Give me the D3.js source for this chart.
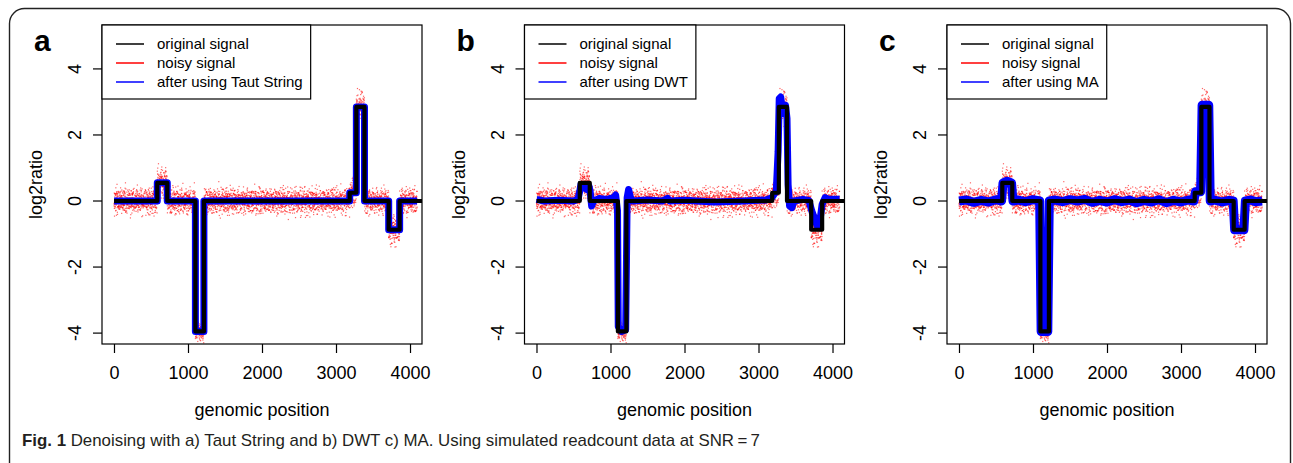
<!DOCTYPE html>
<html>
<head>
<meta charset="utf-8">
<script src="https://cdn.jsdelivr.net/npm/d3@7"></script>
<style>
  body { margin: 0; background: #fff; }
  svg { display: block; }
  text { font-family: "Liberation Sans", Arial, sans-serif; }
</style>
</head>
<body>
<svg width="1293" height="463"></svg>
<script>
// ---------- data ----------
const panelLetters = ['a', 'b', 'c'];
const methodNames = ['Taut String', 'DWT', 'MA'];
const legendLabels = ['original signal', 'noisy signal', 'after using '];
const xTicks = [0, 1000, 2000, 3000, 4000];
const yTicks = [-4, -2, 0, 2, 4];
const nPositions = 4096;

// original (piecewise constant) signal: start position and level of each segment
const segStart = [1, 585, 720, 1100, 1215, 3185, 3275, 3385, 3712, 3860];
const segLevel = [0, 0.55, 0, -3.95, 0, 0.25, 2.85, 0, -0.87, 0];
// spread of the noisy read-count log2ratio around each segment
const segSpread = [0.19, 0.22, 0.19, 0.14, 0.19, 0.22, 0.22, 0.19, 0.24, 0.19];

// residual tables (standard units) used for the scattered noisy points
const resA = [0.31,-1.12,0.84,-0.27,1.53,-0.66,0.08,-1.87,0.45,1.02,-0.39,-0.94,0.71,0.17,-1.41,1.26,-0.05,0.58,-0.73,2.11,
  -0.18,0.96,-1.29,0.39,-0.52,1.67,-0.88,0.23,-2.05,0.63,1.14,-0.34,0.02,-1.58,0.89,-0.11,1.38,-0.69,0.51,-0.97,
  0.27,1.81,-0.45,-1.21,0.74,0.12,-0.61,1.09,-1.73,0.36,0.93,-0.24,-0.83,1.47,-0.07,0.55,-1.36,0.21,2.34,-0.58,
  0.67,-1.04,0.14,-0.31,1.21,-1.95,0.42,0.81,-0.49,-0.16,1.59,-0.77,0.29,-1.18,0.98,-0.36,0.05,1.33,-0.91,-2.27,
  0.61,0.19,-0.64,1.04,-0.21,-1.49,0.77,0.34,-0.09,1.88,-0.72,0.47,-1.07,0.26,-0.42,0.86,-1.63];
const resB = [-0.44,0.92,-1.31,0.18,0.67,-0.03,-1.76,1.19,0.38,-0.57,1.44,-0.89,0.07,2.02,-0.26,-1.08,0.53,0.81,-0.69,-0.15,
  1.28,-1.52,0.33,0.11,-0.96,1.71,-0.37,0.59,-2.18,0.24,0.88,-0.62,1.06,-0.19,-1.24,0.46,0.15,-0.79,1.35,-0.48,
  0.72,-1.01,0.04,1.57,-1.67,0.28,-0.33,0.99,-0.84,0.41,-0.08,1.13,-1.39,0.63,-0.55];

// DWT denoised curve (panel b), control points
const dwtX = [1,100,300,500,560,585,600,640,680,710,725,745,770,850,950,1040,1070,1095,1105,1150,1205,1215,1225,1245,1270,1300,
  1500,1700,1770,1800,2000,2400,2800,3100,3180,3240,3265,3280,3300,3320,3340,3365,3385,3400,3420,3450,3480,3600,3680,
  3720,3760,3800,3830,3860,3900,3950,4096];
const dwtY = [0.05,0.0,0.02,0.0,0.05,0.3,0.5,0.42,0.35,0.45,0.3,-0.15,0.0,0.08,0.05,0.1,0.18,-0.3,-3.8,-3.95,-3.9,-2.0,0.1,0.35,0.1,0.0,
  0.03,0.0,0.08,0.0,0.02,-0.03,0.0,0.03,0.1,0.3,1.5,3.1,3.15,2.8,2.65,2.9,2.5,0.5,-0.15,-0.2,0.0,0.05,0.02,
  -0.3,-0.55,-0.8,-0.6,-0.1,0.1,0.05,0.05];

// moving-average curve (panel c), control points
const maX = [1,100,200,300,400,500,575,595,650,710,730,800,900,1000,1090,1110,1200,1220,1300,1400,1500,1600,1700,1800,1900,
  2000,2100,2200,2300,2400,2500,2600,2700,2800,2900,3000,3100,3175,3195,3265,3285,3375,3395,3450,3550,3650,3705,3725,
  3850,3870,3950,4000,4096];
const maY = [0,0.03,-0.04,0.02,-0.03,0.04,0,0.55,0.6,0.55,0,0.03,-0.02,0.04,0,-3.95,-3.95,0,0.03,-0.02,0.04,0,0.05,-0.04,0.02,
  -0.03,0.04,-0.02,0.03,-0.05,0.02,-0.03,0.04,-0.05,0.02,-0.03,0.03,0,0.28,0.28,2.9,2.9,0,0.03,-0.03,0.02,0,-0.87,
  -0.87,0,0.03,-0.02,0];

// ---------- helpers ----------
const svg = d3.select('svg');

// step function as a list of [x, y] vertices
function stepPoints(endX){
    let pts = [];
    segStart.forEach((s, i) => {
        let e = i < segStart.length - 1 ? segStart[i + 1] : endX;
        pts.push([s, segLevel[i]]);
        pts.push([e, segLevel[i]]);
    });
    return pts;
}

function segmentOf(pos){
    let k = 0;
    segStart.forEach((s, i) => { if (pos >= s) k = i; });
    return k;
}

// noisy observations, one per genomic position
const noisy = d3.range(1, nPositions + 1).map(pos => {
    let k = segmentOf(pos);
    let r = 0.8 * resA[pos % resA.length] + 0.6 * resB[(pos * 3) % resB.length];
    return [pos, segLevel[k] + segSpread[k] * r];
});

const blueSeries = [
    stepPoints(nPositions),
    dwtX.map((x, i) => [x, dwtY[i]]),
    maX.map((x, i) => [x, maY[i]])
];
const blueWidth = [7, 7, 9];

// ---------- frame ----------
svg.append('rect')
    .attr('x', 9.5).attr('y', 8.5)
    .attr('width', 1281).attr('height', 500)
    .attr('rx', 15).attr('ry', 15)
    .style('fill', 'none')
    .style('stroke', '#222')
    .style('stroke-width', 1.4);

// ---------- panels ----------
const plotW = 320, plotTop = 25, plotH = 319;

panelLetters.forEach((letter, p) => {
    let left = 102 + p * 422.5;
    let g = svg.append('g');

    let x = d3.scaleLinear().domain([-162, 4162]).range([left, left + plotW]);
    let y = d3.scaleLinear().domain([-4.33, 5.33]).range([plotTop + plotH, plotTop]);

    let clipId = 'clip' + p;
    svg.append('clipPath').attr('id', clipId)
        .append('rect').attr('x', left).attr('y', plotTop).attr('width', plotW).attr('height', plotH);

    let inner = g.append('g').attr('clip-path', 'url(#' + clipId + ')');

    // noisy points
    inner.append('g').selectAll('rect')
        .data(noisy)
        .join('rect')
        .attr('x', d => x(d[0]) - 0.6)
        .attr('y', d => y(d[1]) - 0.6)
        .attr('width', 1.2).attr('height', 1.2)
        .style('fill', '#ff0000')
        .style('opacity', 0.6);

    let line = d3.line().x(d => x(d[0])).y(d => y(d[1]));

    // denoised curve
    inner.append('path')
        .attr('d', line(blueSeries[p]))
        .style('fill', 'none')
        .style('stroke', '#0000ff')
        .style('stroke-width', blueWidth[p])
        .style('stroke-linejoin', 'round');

    // original signal
    inner.append('path')
        .attr('d', line(stepPoints(4300)))
        .style('fill', 'none')
        .style('stroke', '#000')
        .style('stroke-width', 4.2)
        .style('stroke-linejoin', 'round');

    // box
    g.append('rect')
        .attr('x', left).attr('y', plotTop).attr('width', plotW).attr('height', plotH)
        .style('fill', 'none').style('stroke', '#000').style('stroke-width', 1.2);

    // x axis
    let xAxis = g.append('g')
        .attr('transform', 'translate(0,' + (plotTop + plotH) + ')')
        .call(d3.axisBottom(x).tickValues(xTicks).tickFormat(d3.format('d'))
            .tickSizeOuter(0).tickSize(9).tickPadding(13));
    xAxis.select('.domain').remove();
    xAxis.selectAll('line').style('stroke', '#000').style('stroke-width', 1.2);
    xAxis.selectAll('text').style('font-size', '18px').style('fill', '#000')
        .style('font-family', '"Liberation Sans", Arial, sans-serif');

    // y axis (labels parallel to axis, as in R)
    g.selectAll('.ytick').data(yTicks).join('line')
        .attr('x1', left - 9).attr('x2', left)
        .attr('y1', d => y(d)).attr('y2', d => y(d))
        .style('stroke', '#000').style('stroke-width', 1.2);
    g.selectAll('.ylab').data(yTicks).join('text')
        .attr('transform', d => 'translate(' + (left - 27) + ',' + y(d) + ') rotate(-90)')
        .attr('dy', '0.35em')
        .attr('text-anchor', 'middle')
        .style('font-size', '18px')
        .text(d => d);

    // axis titles
    g.append('text')
        .attr('transform', 'translate(' + (left - 66) + ',' + (plotTop + plotH / 2) + ') rotate(-90)')
        .attr('dy', '0.35em')
        .attr('text-anchor', 'middle')
        .style('font-size', '18px')
        .text('log2ratio');
    g.append('text')
        .attr('x', left + plotW / 2).attr('y', 416)
        .attr('text-anchor', 'middle')
        .style('font-size', '18px')
        .text('genomic position');

    // panel letter
    g.append('text')
        .attr('x', left - 68).attr('y', 51)
        .style('font-size', '30px')
        .style('font-weight', 'bold')
        .text(letter);

    // legend
    let labels = legendLabels.map((l, i) => i === 2 ? l + methodNames[p] : l);
    let colors = ['#000', '#ff0000', '#0000ff'];
    let lg = g.append('g');
    let lbox = lg.append('rect')
        .attr('x', left).attr('y', plotTop).attr('height', 74)
        .style('fill', '#fff').style('stroke', '#000').style('stroke-width', 1.2);
    let maxW = 0;
    labels.forEach((l, i) => {
        let cy = 44 + i * 19;
        lg.append('line')
            .attr('x1', left + 14).attr('x2', left + 42)
            .attr('y1', cy).attr('y2', cy)
            .style('stroke', colors[i]).style('stroke-width', 1.5);
        let t = lg.append('text')
            .attr('x', left + 55).attr('y', cy).attr('dy', '0.35em')
            .style('font-size', '15px')
            .text(l);
        maxW = Math.max(maxW, t.node().getComputedTextLength());
    });
    lbox.attr('width', 55 + maxW + 8);
});

// ---------- caption ----------
let cap = svg.append('text')
    .attr('x', 22).attr('y', 446)
    .style('font-family', '"Liberation Sans Narrow", "Liberation Sans", Arial, sans-serif')
    .style('font-size', '17px')
    .style('fill', '#231f20');
cap.append('tspan').style('font-weight', 'bold').text('Fig. 1');
cap.append('tspan').text(' Denoising with a) Taut String and b) DWT c) MA. Using simulated readcount data at SNR\u2009=\u20097');
cap.attr('textLength', 738).attr('lengthAdjust', 'spacingAndGlyphs');
</script>
</body>
</html>
